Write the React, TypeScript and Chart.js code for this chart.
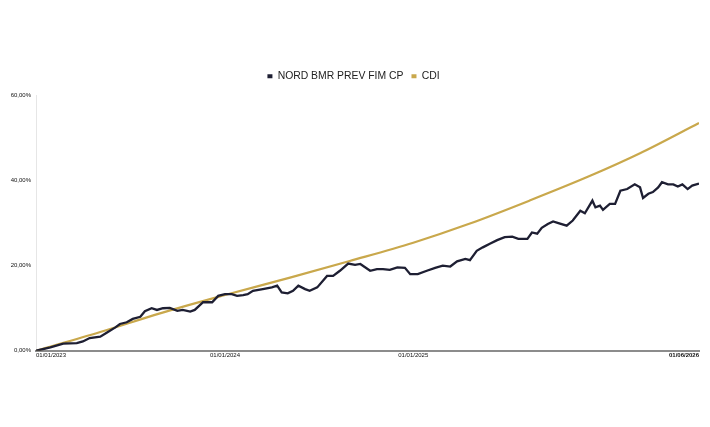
import React, { useEffect, useRef } from "react";
import { Chart, registerables } from "chart.js";

Chart.register(...registerables);

// x = trading-day index since 01/01/2023
const tickIndex = [0, 250, 499, 877];
const tickLabels = ["01/01/2023", "01/01/2024", "01/01/2025", "01/06/2026"];
const yTicks = [0, 20, 40, 60];

const seriesNames = ["NORD BMR PREV FIM CP", "CDI"];

const nordDays = [
  0, 19, 36, 54, 62, 71, 85, 94, 105, 111, 120, 128, 138, 144, 153, 160, 168, 177, 187, 194,
  204, 210, 221, 233, 241, 250, 259, 266, 274, 280, 287, 300, 312, 319, 325, 333, 340, 347, 356, 362,
  372, 385, 393, 402, 413, 422, 429, 442, 451, 459, 468, 478, 488, 495, 505, 517, 528, 538, 548, 557,
  568, 574, 583, 591, 601, 610, 620, 630, 638, 650, 656, 663, 669, 677, 684, 691, 702, 710, 720, 726,
  736, 740, 746, 750, 759, 766, 773, 782, 792, 799, 803, 810, 816, 823, 828, 836, 843, 849, 855, 862,
  868, 877,
];
const nordValues = [
  0, 0.8, 1.7, 1.8, 2.2, 3.0, 3.3, 4.3, 5.5, 6.3, 6.7, 7.5, 8.0, 9.3, 10.0, 9.6, 10.0, 10.1, 9.4, 9.6,
  9.2, 9.6, 11.4, 11.4, 12.9, 13.3, 13.3, 12.9, 13.1, 13.3, 14.1, 14.5, 14.9, 15.3, 13.7, 13.5, 14.1, 15.3, 14.5, 14.1,
  14.9, 17.6, 17.6, 18.8, 20.5, 20.2, 20.4, 18.8, 19.2, 19.2, 19.0, 19.6, 19.5, 18.0, 18.0, 18.8, 19.5, 20.0, 19.8, 21.0,
  21.6, 21.3, 23.5, 24.3, 25.2, 26.0, 26.7, 26.8, 26.3, 26.3, 27.8, 27.5, 28.9, 29.8, 30.4, 30.0, 29.4, 30.6, 32.9, 32.3,
  35.3, 33.7, 34.1, 33.1, 34.5, 34.5, 37.6, 38.0, 39.1, 38.4, 35.9, 36.9, 37.3, 38.4, 39.6, 39.1, 39.1, 38.6, 39.1, 38.0,
  38.8, 39.3,
];

const cdiDays = [0, 85, 164, 250, 336, 415, 499, 574, 653, 733, 799, 877];
const cdiValues = [0, 4.4, 8.8, 13.1, 17.2, 21.1, 25.4, 29.9, 35.3, 41.1, 46.4, 53.5];

const NAVY = "#1e1f33";
const GOLD = "#c9a84c";
const FONT = "'Liberation Sans', Arial, Helvetica, sans-serif";

const legendSpacer = {
  id: "legendSpacer",
  beforeInit(chart: any) {
    const origFit = chart.legend.fit;
    chart.legend.fit = function fit() {
      origFit.bind(chart.legend)();
      this.height += 4;
    };
  },
};

export default function App() {
  const canvasRef = useRef<HTMLCanvasElement | null>(null);

  useEffect(() => {
    if (!canvasRef.current) return;
    const chart = new Chart(canvasRef.current, {
      type: "line",
      data: {
        datasets: [
          {
            label: seriesNames[0],
            data: nordDays.map((d, i) => ({ x: d, y: nordValues[i] })),
            borderColor: NAVY,
            backgroundColor: NAVY,
            borderWidth: 2.3,
            pointRadius: 0,
            tension: 0,
          },
          {
            label: seriesNames[1],
            data: cdiDays.map((d, i) => ({ x: d, y: cdiValues[i] })),
            borderColor: GOLD,
            backgroundColor: GOLD,
            borderWidth: 2.2,
            pointRadius: 0,
            cubicInterpolationMode: "monotone",
          },
        ],
      },
      plugins: [legendSpacer],
      options: {
        animation: false,
        responsive: true,
        maintainAspectRatio: false,
        layout: { padding: { top: 55, bottom: 59, left: 0, right: 3 } },
        plugins: {
          tooltip: { enabled: false },
          legend: {
            position: "top",
            labels: {
              boxWidth: 5,
              boxHeight: 4,
              padding: 8,
              color: "#222",
              font: { family: FONT, size: 10.4 },
              generateLabels: (c: any) =>
                Chart.defaults.plugins.legend.labels.generateLabels(c).map((it: any) => ({
                  ...it,
                  lineWidth: 0,
                })),
            },
          },
        },
        scales: {
          x: {
            type: "linear",
            min: tickIndex[0],
            max: tickIndex[tickIndex.length - 1],
            afterBuildTicks: (scale: any) => {
              scale.ticks = tickIndex.map((v) => ({ value: v }));
            },
            grid: { display: false, drawTicks: false },
            border: { display: true, color: "#8c8c8c", width: 2 },
            ticks: {
              autoSkip: false,
              maxRotation: 0,
              align: "inner",
              padding: 1,
              color: "#111",
              font: (ctx: any) => ({
                family: FONT,
                size: 6,
                weight: ctx.index === tickIndex.length - 1 ? "bold" : "normal",
              }),
              callback: (v: any) => {
                const i = tickIndex.indexOf(Number(v));
                return i >= 0 ? tickLabels[i] : "";
              },
            },
          },
          y: {
            min: yTicks[0],
            max: yTicks[yTicks.length - 1],
            afterBuildTicks: (scale: any) => {
              scale.ticks = yTicks.map((v) => ({ value: v }));
            },
            afterFit: (scale: any) => {
              scale.width = 28;
            },
            grid: { display: false, drawTicks: false },
            border: { display: true, color: "#e6e6e6", width: 1 },
            ticks: {
              padding: 5,
              color: "#111",
              font: { family: FONT, size: 6 },
              callback: (v: any) => Number(v).toFixed(2).replace(".", ",") + "%",
            },
          },
        },
      },
    } as any);
    return () => chart.destroy();
  }, []);

  return (
    <div style={{ width: "100%", height: 411, position: "relative" }}>
      <canvas ref={canvasRef} />
    </div>
  );
}
